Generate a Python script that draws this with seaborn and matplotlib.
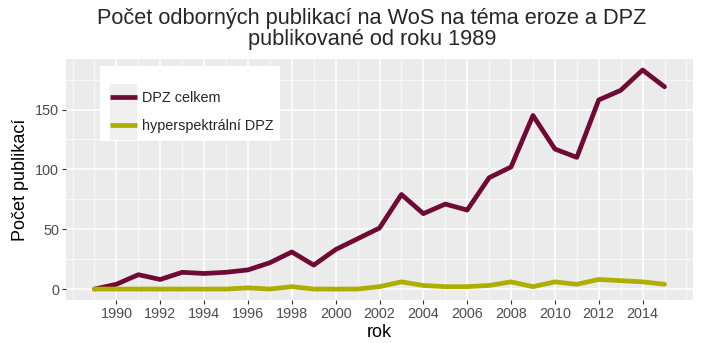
import numpy as np
import pandas as pd
import matplotlib
matplotlib.use("Agg")
import matplotlib.pyplot as plt
import seaborn as sns
from matplotlib.ticker import MultipleLocator
from matplotlib.patches import Rectangle

years = list(range(1989, 2016))
dpz_celkem = [0, 4, 12, 8, 14, 13, 14, 16, 22, 31, 20, 33, 42, 51, 79, 63, 71, 66, 93, 102, 145, 117, 110, 158, 166, 183, 169]
hyper_dpz = [0, 0, 0, 0, 0, 0, 0, 1, 0, 2, 0, 0, 0, 2, 6, 3, 2, 2, 3, 6, 2, 6, 4, 8, 7, 6, 4]
series_names = ["DPZ celkem", "hyperspektrální DPZ"]
colors = {"DPZ celkem": "#6E0A34", "hyperspektrální DPZ": "#AEAE00"}

df = pd.DataFrame({
    "rok": years * 2,
    "pocet": dpz_celkem + hyper_dpz,
    "serie": [series_names[0]] * len(years) + [series_names[1]] * len(years),
})

sns.set_theme(style="darkgrid", rc={
    "axes.facecolor": "#EBEBEB",
    "grid.color": "white",
    "axes.edgecolor": "none",
})
plt.rcParams["font.family"] = ["Liberation Sans", "DejaVu Sans"]

W, H = 703, 343
fig = plt.figure(figsize=(W / 100, H / 100), dpi=100)
ax = fig.add_axes([66 / W, 1 - 300 / H, (693 - 66) / W, (300 - 59) / H])

sns.lineplot(data=df, x="rok", y="pocet", hue="serie", palette=colors,
             linewidth=3.4, ax=ax, legend=True)

ax.set_xlim(1987.7, 2016.3)
ax.set_ylim(-9.15, 192.2)
ax.xaxis.set_minor_locator(MultipleLocator(1))
ax.yaxis.set_major_locator(MultipleLocator(50))
ax.yaxis.set_minor_locator(MultipleLocator(25))
ax.set_xticks(range(1990, 2016, 2))
ax.grid(which="major", color="white", linewidth=1.1)
ax.grid(which="minor", color="white", linewidth=0.5)
ax.tick_params(axis="both", which="major", length=3, width=0.8, color="#333333",
               labelsize=10.4, labelcolor="#4D4D4D", pad=2, bottom=True, left=True)
ax.tick_params(axis="both", which="minor", length=0)

ax.set_xlabel("rok", fontsize=13, color="black", labelpad=2)
ax.set_ylabel("Počet publikací", fontsize=13, color="black", labelpad=4)

# legend background (white box) and grey key backgrounds, ggplot style
def fig_rect(x0, y0, x1, y1, color, z):
    ax.add_patch(Rectangle((x0 / W, 1 - y1 / H), (x1 - x0) / W, (y1 - y0) / H,
                           transform=fig.transFigure, facecolor=color,
                           edgecolor="none", zorder=z, clip_on=False))

fig_rect(100, 66, 280, 141, "white", 4)
fig_rect(110, 84, 137, 111.5, "#EFEFEF", 4.5)
fig_rect(110, 112.5, 137, 140, "#EFEFEF", 4.5)

leg = ax.legend(title=None, loc="upper left",
                bbox_to_anchor=(110 / W, 1 - 91 / H), bbox_transform=fig.transFigure,
                frameon=False, fontsize=10.4, handlelength=1.87, handletextpad=0.35,
                labelspacing=0.95, borderpad=0, borderaxespad=0)
for line in leg.get_lines():
    line.set_linewidth(3.4)
    line.set_solid_capstyle("butt")
leg.set_zorder(6)

fig.text(372 / W, 1 - 29 / H, "Počet odborných publikací na WoS na téma eroze a DPZ\npublikované od roku 1989",
         ha="center", va="center", fontsize=15.7, linespacing=1.05)

fig.savefig("out.png", dpi=100)
